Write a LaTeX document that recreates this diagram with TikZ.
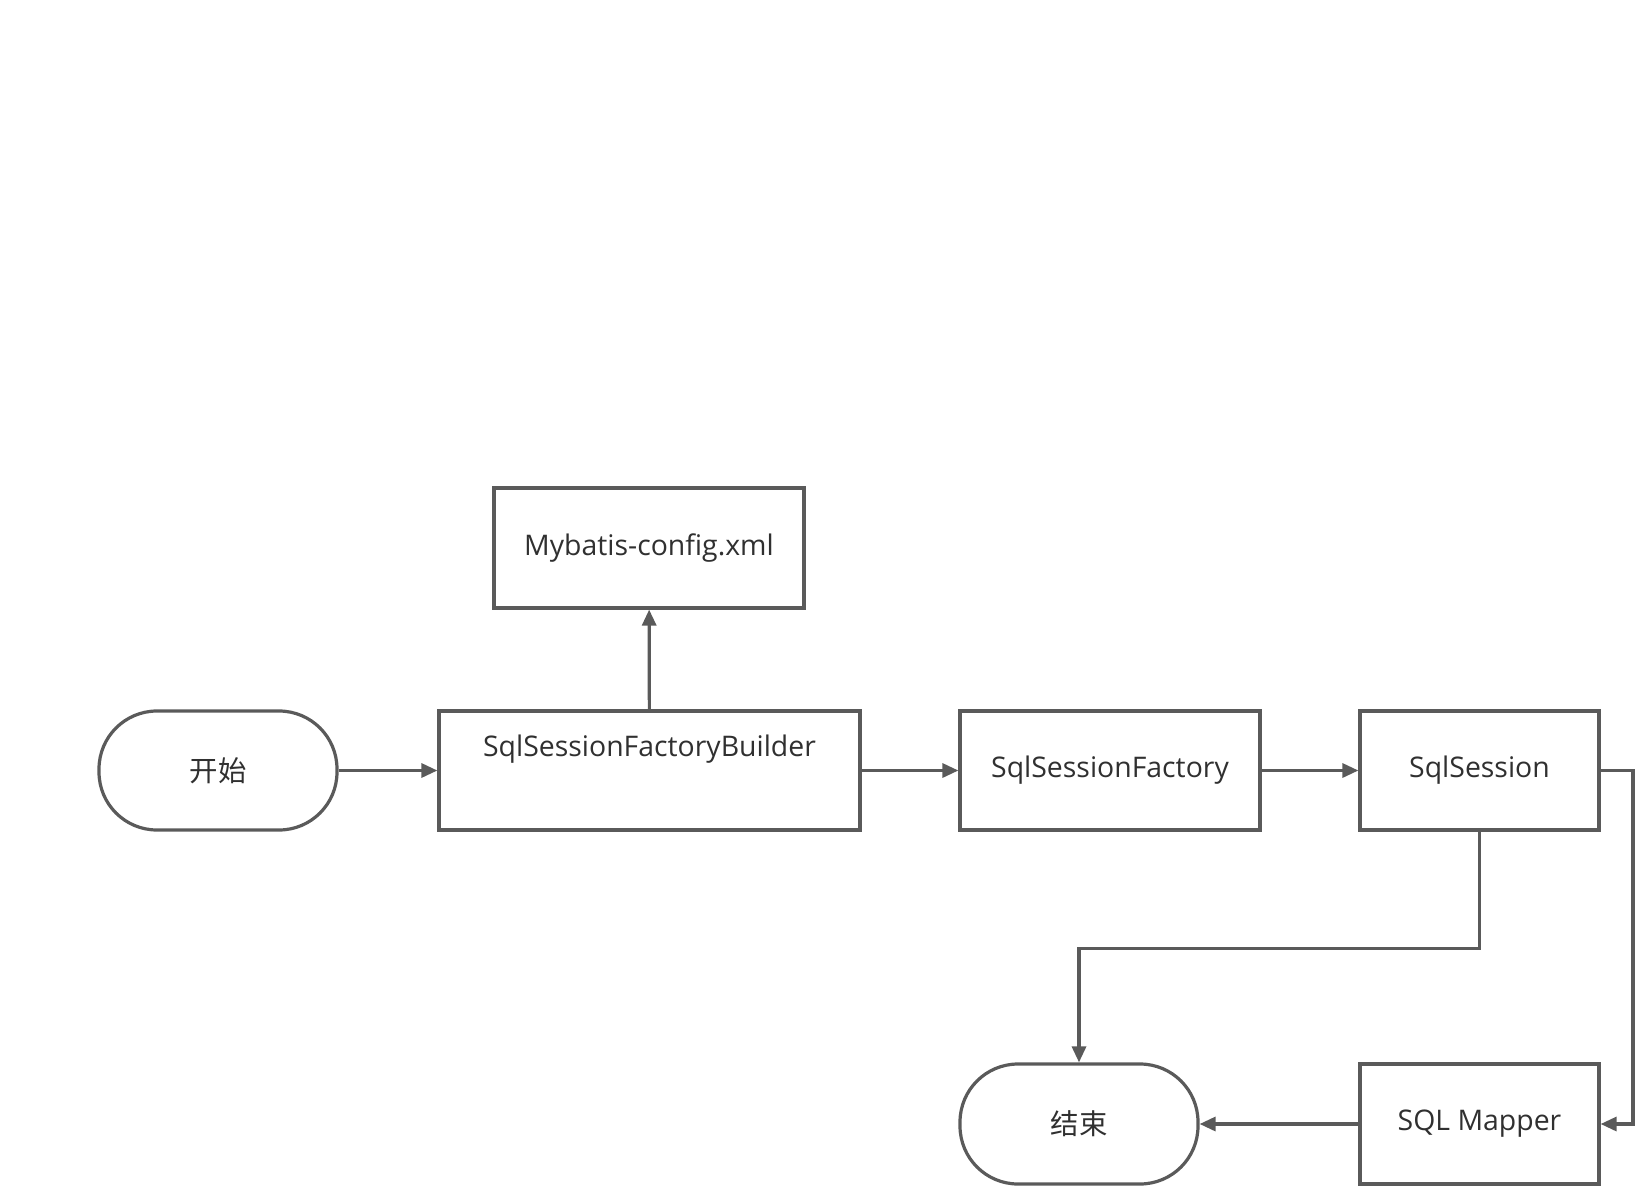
\documentclass[tikz,border=0pt]{standalone}
\usepackage{fontspec}
\setmainfont{Open Sans}
\newfontfamily\cjk{Noto Sans CJK SC}
\usetikzlibrary{arrows.meta,positioning}
\definecolor{edge}{HTML}{5A5A5A}
\definecolor{ink}{HTML}{303030}
\begin{document}
\begin{tikzpicture}[x=0.5pt, y=-0.5pt,
  box/.style={draw=edge, line width=1.6pt, align=center, font=\fontsize{14.2pt}{17pt}\selectfont,
              text=ink, minimum height=59.5pt, inner sep=2pt},
  term/.style={box, rounded corners=29pt, minimum width=119pt},
  ar/.style={-{Triangle[length=8pt,width=7pt]}, draw=edge, line width=1.6pt}]
\useasboundingbox (0,0) rectangle (1638,1188);
\node[term] (start)   at (218,770.5)    {\cjk 开始};
\node[box, minimum width=210.5pt] (builder) at (649.5,770.5) {SqlSessionFactoryBuilder\\[3pt]\strut};
\node[box, minimum width=155pt, minimum height=60pt] (config) at (649,548) {Mybatis-config.xml};
\node[box, minimum width=150pt] (factory) at (1110,770.5) {SqlSessionFactory};
\node[box, minimum width=119.5pt] (session) at (1479.5,770.5) {SqlSession};
\node[box, minimum width=119.5pt, minimum height=60pt] (mapper) at (1479.5,1124) {SQL Mapper};
\node[term, minimum height=60pt] (end) at (1079,1124) {\cjk 结束};
\coordinate (rt) at (1633,770.5);
\draw[ar] (start) -- (builder);
\draw[ar] (builder) -- (config);
\draw[ar] (builder) -- (factory);
\draw[ar] (factory) -- (session);
\draw[ar] (session.east) -- (rt) |- (mapper.east);
\draw[ar] (session.south) -- ++(0,117) -| (end.north);
\draw[ar] (mapper) -- (end);
\end{tikzpicture}
\end{document}
